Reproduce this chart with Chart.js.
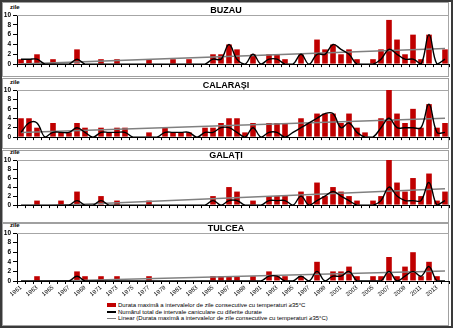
<!DOCTYPE html>
<html>
<head>
<meta charset="utf-8">
<script src="https://cdn.jsdelivr.net/npm/chart.js@4.4.1/dist/chart.umd.min.js"></script>
<style>
  html, body { margin: 0; padding: 0; background: #fff; }
  #wrap { position: relative; width: 453px; height: 328px; overflow: hidden; font-family: "Liberation Sans", Arial, sans-serif; }
  #frame { position: absolute; left: 0; top: 0; width: 453px; height: 328px; box-sizing: border-box; border: 2px solid #3a3a3a; z-index: 5; }
  .panel { position: absolute; left: 2px; width: 447px; box-sizing: border-box; border: 1px solid #a0a0a0; }
  canvas { position: absolute; left: 0; }
  .zile { position: absolute; left: 10px; font-size: 6px; line-height: 6px; font-weight: bold; }
  #legend { position: absolute; left: 107px; top: 302px; font-size: 6px; line-height: 6.5px; white-space: nowrap; color: #000; }
  #legend div { height: 6.5px; }
  #legend i { display: inline-block; width: 9px; vertical-align: middle; margin-right: 2px; }
</style>
</head>
<body>
<div id="wrap">
  <div class="panel" style="top:2px;height:75px"></div>
  <div class="panel" style="top:78px;height:71px"></div>
  <div class="panel" style="top:150px;height:73px"></div>
  <div class="panel" style="top:223px;height:103px"></div>

  <span class="zile" style="top:4px">zile</span>
  <span class="zile" style="top:79px">zile</span>
  <span class="zile" style="top:149px">zile</span>
  <span class="zile" style="top:222px">zile</span>

  <canvas id="c1" width="453" height="64" style="top:6px"></canvas>
  <canvas id="c2" width="453" height="62" style="top:81px"></canvas>
  <canvas id="c3" width="453" height="60" style="top:151px"></canvas>
  <canvas id="c4" width="453" height="77" style="top:224px"></canvas>

  <div id="legend">
    <div><i style="height:4px;background:#c00000"></i>Durata maximă a intervalelor de zile consecutive cu temperaturi ≥35°C</div>
    <div><i style="height:1.5px;background:#000"></i>Numărul total de intervale caniculare cu diferite durate</div>
    <div><i style="height:1.5px;background:#808080"></i>Linear (Durata maximă a intervalelor de zile consecutive cu temperaturi ≥35°C)</div>
  </div>
  <div id="frame"></div>
</div>

<script>
const years = ['1961','1962','1963','1964','1965','1966','1967','1968','1969','1970',
  '1971','1972','1973','1974','1975','1976','1977','1978','1979','1980',
  '1981','1982','1983','1984','1985','1986','1987','1988','1989','1990',
  '1991','1992','1993','1994','1995','1996','1997','1998','1999','2000',
  '2001','2002','2003','2004','2005','2006','2007','2008','2009','2010',
  '2011','2012','2013','2014'];

// durata maxima (zile)
const maxBuzau = [1,1,2,0,1,0,0,3,0,0, 1,0,1,0,0,0,1,0,0,1, 0,1,0,0,2,2,4,3,0,2, 0,2,2,1,0,2,0,5,3,4, 2,3,1,0,1,3,9,5,2,6, 1,6,0,3];
const maxCalarasi = [4,4,2,0,3,1,1,3,2,0, 2,1,2,2,0,0,1,0,2,1, 1,1,0,2,2,3,4,4,1,3, 0,3,3,3,0,4,3,5,5,5, 3,5,2,1,0,4,10,5,3,6, 2,7,2,3];
const maxGalati = [0,0,1,0,0,1,0,3,0,0, 2,0,1,0,0,0,1,0,0,0, 0,0,0,0,2,0,4,3,0,1, 0,2,2,2,0,3,2,5,2,4, 3,2,1,0,1,2,10,5,3,6, 2,7,1,3];
const maxTulcea = [0,0,1,0,0,0,0,2,1,0, 1,0,1,0,0,0,1,0,0,0, 0,0,0,0,1,1,1,1,0,1, 0,2,1,1,0,1,0,4,0,2, 2,3,1,0,1,1,5,1,3,6, 1,4,1,0];

// numarul total de intervale caniculare
const nrBuzau = [1,1,1,0,0,0,0,1,0,0, 0,0,0,0,0,0,0,0,0,0, 0,0,0,0,1,1,4,1,0,2, 0,1,1,0,0,2,0,2,2,4, 3,2,0,0,0,1,3,2,1,1, 0,6,0,1];
const nrCalarasi = [1,3,3,0,1,1,1,2,1,0, 1,1,1,1,0,0,0,0,1,1, 1,1,0,1,1,2,2,1,0,2, 0,1,1,0,1,2,3,4,5,5, 2,3,1,0,0,2,4,2,2,2, 2,7,1,1];
const nrGalati = [0,0,0,0,0,0,0,1,0,0, 1,0,0,0,0,0,0,0,0,0, 0,0,0,0,1,0,1,1,0,0, 0,1,1,1,0,2,0,1,2,3, 2,1,0,0,0,1,4,2,1,1, 1,5,0,1];
const nrTulcea = [0,0,0,0,0,0,0,1,0,0, 0,0,0,0,0,0,0,0,0,0, 0,0,0,0,0,0,0,0,0,0, 0,1,1,0,0,1,0,2,0,1, 1,2,0,0,0,0,2,0,1,2, 1,3,0,0];

// linia de tendinta: valoare in 1961 si in 2014
const trendBuzau = [0.0, 3.2];
const trendCalarasi = [1.0, 4.0];
const trendGalati = [-0.4, 3.6];
const trendTulcea = [-0.2, 2.1];

Chart.defaults.font.family = '"Liberation Sans", Arial, sans-serif';
Chart.defaults.color = '#000';

const framePlugin = {
  id: 'frame',
  beforeDatasetsDraw(chart) {
    const { ctx, chartArea: a } = chart;
    ctx.save();
    ctx.strokeStyle = '#a6a6a6';
    ctx.lineWidth = 1;
    ctx.beginPath();
    ctx.moveTo(a.left, a.top + 0.5);
    ctx.lineTo(a.right - 0.5, a.top + 0.5);
    ctx.lineTo(a.right - 0.5, a.bottom);
    ctx.stroke();
    ctx.restore();
  }
};

function makePanel(id, title, bars, counts, trend, showYears) {
  const trendData = years.map(() => null);
  trendData[0] = trend[0];
  trendData[years.length - 1] = trend[1];
  return new Chart(document.getElementById(id), {
    type: 'bar',
    data: {
      labels: years,
      datasets: [
        {
          type: 'line',
          data: counts,
          borderColor: '#000',
          borderWidth: 1.4,
          pointRadius: 0,
          tension: 0.4,
          order: 1
        },
        {
          type: 'line',
          data: trendData,
          spanGaps: true,
          borderColor: '#808080',
          borderWidth: 1.5,
          pointRadius: 0,
          order: 2
        },
        {
          data: bars,
          backgroundColor: '#c00000',
          borderWidth: 0,
          barPercentage: 0.7,
          categoryPercentage: 1.0,
          order: 3
        }
      ]
    },
    options: {
      responsive: false,
      animation: false,
      events: [],
      layout: { padding: { left: 3, right: 4, top: 0, bottom: 0 } },
      plugins: {
        legend: { display: false },
        tooltip: { enabled: false },
        title: {
          display: true,
          text: title,
          color: '#000',
          font: { size: 9, weight: 'bold', lineHeight: 1 },
          padding: { top: 0, bottom: 0 }
        }
      },
      scales: {
        x: {
          offset: true,
          grid: { offset: true, drawOnChartArea: false, drawTicks: true, tickLength: 3, color: '#000' },
          border: { color: '#000' },
          ticks: {
            display: showYears,
            autoSkip: false,
            minRotation: 40,
            maxRotation: 40,
            padding: 0,
            font: { size: 6 },
            callback: (v, i) => (i % 2 === 0 ? years[i] : '')
          },
          afterFit: (s) => { s.height = showYears ? 20 : 4; }
        },
        y: {
          min: 0,
          max: 10,
          grid: { drawOnChartArea: false, drawTicks: true, tickLength: 4, color: '#000' },
          border: { color: '#000' },
          ticks: { stepSize: 2, autoSkip: false, padding: 2, font: { size: 6.5, weight: 'bold' } },
          afterFit: (s) => { s.width = 14; }
        }
      }
    },
    plugins: [framePlugin]
  });
}

makePanel('c1', 'BUZĂU', maxBuzau, nrBuzau, trendBuzau, false);
makePanel('c2', 'CĂLĂRAȘI', maxCalarasi, nrCalarasi, trendCalarasi, false);
makePanel('c3', 'GALAȚI', maxGalati, nrGalati, trendGalati, false);
makePanel('c4', 'TULCEA', maxTulcea, nrTulcea, trendTulcea, true);
</script>
</body>
</html>
